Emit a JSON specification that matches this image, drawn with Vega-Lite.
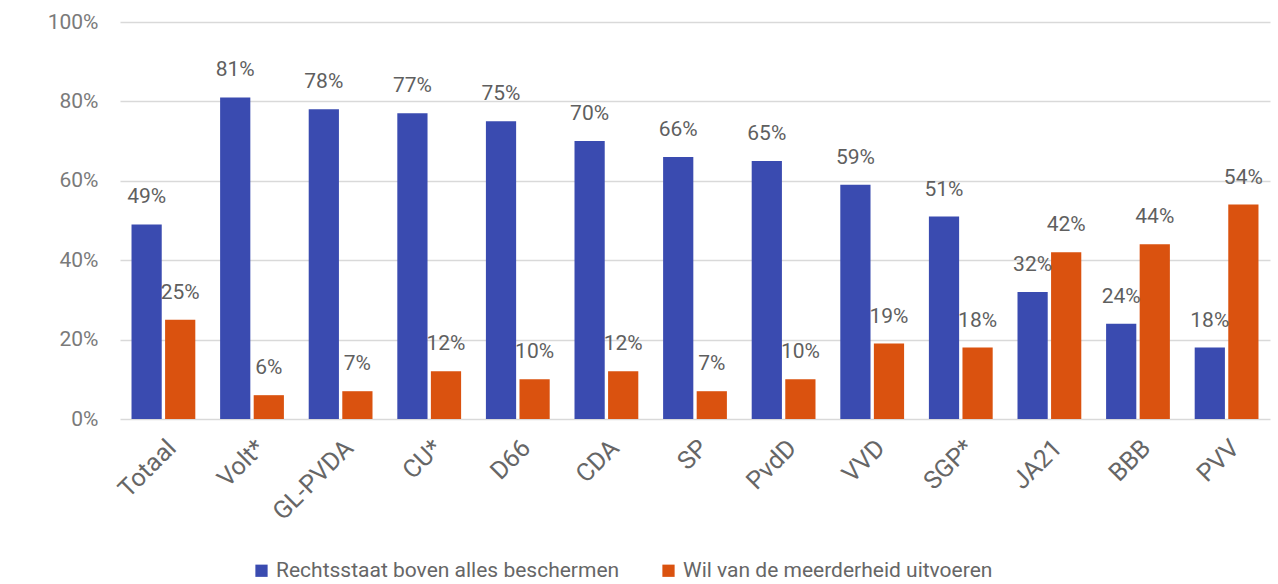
{
  "$schema": "https://vega.github.io/schema/vega-lite/v6.json",
  "autosize": {"type": "none"},
  "width": 1150,
  "height": 397,
  "padding": {"left": 120, "top": 22, "right": 8, "bottom": 165},
  "background": "white",
  "config": {
    "font": "Roboto",
    "view": {"stroke": null},
    "axis": {"labelFont": "Roboto", "labelColor": "#707070"}
  },
  "data": {
    "values": [
      {"partij": "Totaal", "reeks": "Rechtsstaat boven alles beschermen", "waarde": 49},
      {"partij": "Totaal", "reeks": "Wil van de meerderheid uitvoeren", "waarde": 25},
      {"partij": "Volt*", "reeks": "Rechtsstaat boven alles beschermen", "waarde": 81},
      {"partij": "Volt*", "reeks": "Wil van de meerderheid uitvoeren", "waarde": 6},
      {"partij": "GL-PVDA", "reeks": "Rechtsstaat boven alles beschermen", "waarde": 78},
      {"partij": "GL-PVDA", "reeks": "Wil van de meerderheid uitvoeren", "waarde": 7},
      {"partij": "CU*", "reeks": "Rechtsstaat boven alles beschermen", "waarde": 77},
      {"partij": "CU*", "reeks": "Wil van de meerderheid uitvoeren", "waarde": 12},
      {"partij": "D66", "reeks": "Rechtsstaat boven alles beschermen", "waarde": 75},
      {"partij": "D66", "reeks": "Wil van de meerderheid uitvoeren", "waarde": 10},
      {"partij": "CDA", "reeks": "Rechtsstaat boven alles beschermen", "waarde": 70},
      {"partij": "CDA", "reeks": "Wil van de meerderheid uitvoeren", "waarde": 12},
      {"partij": "SP", "reeks": "Rechtsstaat boven alles beschermen", "waarde": 66},
      {"partij": "SP", "reeks": "Wil van de meerderheid uitvoeren", "waarde": 7},
      {"partij": "PvdD", "reeks": "Rechtsstaat boven alles beschermen", "waarde": 65},
      {"partij": "PvdD", "reeks": "Wil van de meerderheid uitvoeren", "waarde": 10},
      {"partij": "VVD", "reeks": "Rechtsstaat boven alles beschermen", "waarde": 59},
      {"partij": "VVD", "reeks": "Wil van de meerderheid uitvoeren", "waarde": 19},
      {"partij": "SGP*", "reeks": "Rechtsstaat boven alles beschermen", "waarde": 51},
      {"partij": "SGP*", "reeks": "Wil van de meerderheid uitvoeren", "waarde": 18},
      {"partij": "JA21", "reeks": "Rechtsstaat boven alles beschermen", "waarde": 32},
      {"partij": "JA21", "reeks": "Wil van de meerderheid uitvoeren", "waarde": 42},
      {"partij": "BBB", "reeks": "Rechtsstaat boven alles beschermen", "waarde": 24},
      {"partij": "BBB", "reeks": "Wil van de meerderheid uitvoeren", "waarde": 44},
      {"partij": "PVV", "reeks": "Rechtsstaat boven alles beschermen", "waarde": 18},
      {"partij": "PVV", "reeks": "Wil van de meerderheid uitvoeren", "waarde": 54}
    ]
  },
  "encoding": {
    "x": {
      "field": "partij", "type": "nominal", "sort": null,
      "scale": {"paddingInner": 0.28, "paddingOuter": 0.13},
      "axis": {"title": null, "labelAngle": -45, "labelAlign": "right", "labelBaseline": "top", "domain": false, "ticks": false, "labelPadding": 16, "labelFontSize": 25, "labelColor": "#666666"}
    },
    "xOffset": {"field": "reeks", "type": "nominal", "scale": {"paddingInner": 0.1}},
    "y": {
      "field": "waarde", "type": "quantitative",
      "scale": {"domain": [0, 100]},
      "axis": {"title": null, "values": [0, 20, 40, 60, 80, 100], "labelExpr": "datum.value + '%'", "domain": false, "ticks": false, "labelPadding": 22, "labelFontSize": 21, "labelColor": "#7a7a7a", "gridColor": "#d9d9d9", "gridWidth": 1.5}
    }
  },
  "layer": [
    {
      "mark": {"type": "bar"},
      "encoding": {
        "color": {
          "field": "reeks", "type": "nominal",
          "scale": {"domain": ["Rechtsstaat boven alles beschermen", "Wil van de meerderheid uitvoeren"], "range": ["#3a4bb0", "#da520f"]},
          "legend": {"title": null, "orient": "none", "legendX": 131, "legendY": 538, "direction": "horizontal", "symbolType": "square", "symbolSize": 150, "labelFontSize": 21, "labelColor": "#666666", "labelFont": "Roboto", "labelLimit": 0, "columnPadding": 38, "symbolStrokeWidth": 0}
        }
      }
    },
    {
      "transform": [{"calculate": "datum.waarde + '%'", "as": "label"}],
      "mark": {"type": "text", "baseline": "bottom", "dy": -17, "fontSize": 21, "color": "#5f5f5f", "font": "Roboto"},
      "encoding": {
        "text": {"field": "label", "type": "nominal"},
        "detail": {"field": "reeks"}
      }
    }
  ]
}
